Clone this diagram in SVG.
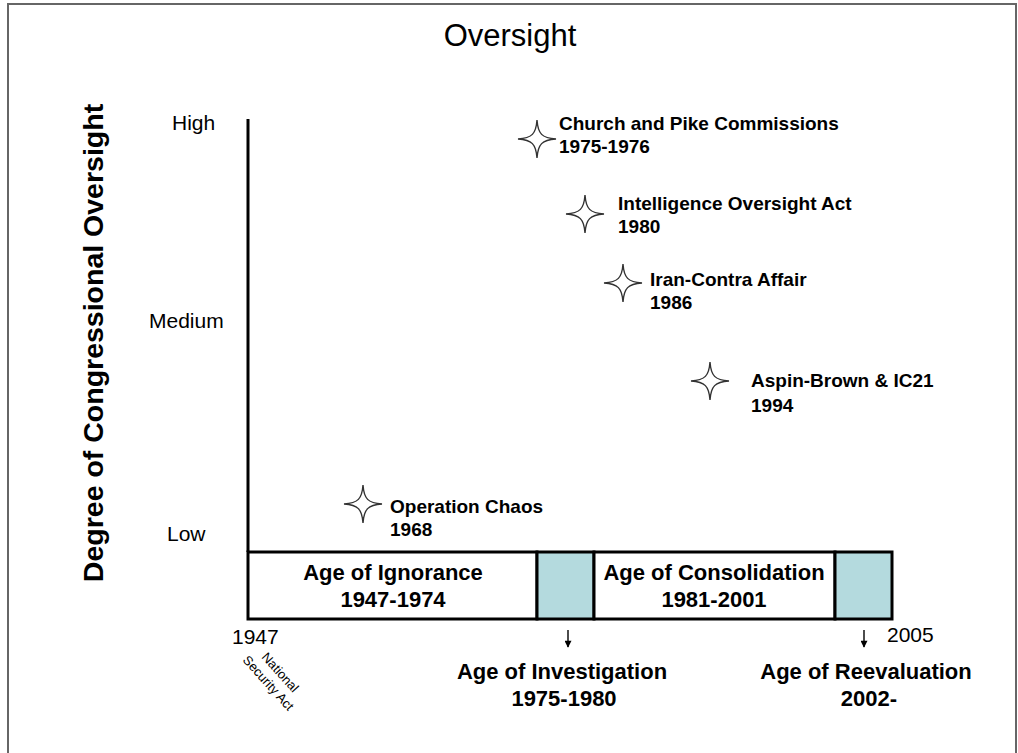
<svg xmlns="http://www.w3.org/2000/svg" width="1018" height="753" viewBox="0 0 1018 753">
<defs>
<style>
.lbl{font-family:"Liberation Sans",Arial,sans-serif;font-weight:bold;font-size:19px;fill:#000}
.lvl{font-family:"Liberation Sans",Arial,sans-serif;font-size:21px;fill:#000}
.age{font-family:"Liberation Sans",Arial,sans-serif;font-weight:bold;font-size:22px;fill:#000;text-anchor:middle}
.yr{font-family:"Liberation Sans",Arial,sans-serif;font-size:21px;fill:#000}
.nsa{font-family:"Liberation Sans",Arial,sans-serif;font-size:13px;fill:#000;text-anchor:middle}
.star{fill:#fff;stroke:#333;stroke-width:1.4}
.cell{stroke:#000;stroke-width:3}
.arr{stroke:#000;stroke-width:1.4}
</style>
<path id="star" d="M0,-19 C1,-5 5,-1 19,0 C5,1 1,5 0,19 C-1,5 -5,1 -19,0 C-5,-1 -1,-5 0,-19 Z"/>
<marker id="ah" viewBox="0 0 10 10" refX="9" refY="5" markerWidth="8" markerHeight="7" orient="auto" markerUnits="userSpaceOnUse"><path d="M0,0 L10,5 L0,10 Z" fill="#000"/></marker>
</defs>
<rect x="0" y="0" width="1018" height="753" fill="#fff"/>
<path d="M8,753 V4 H1016 V753" fill="none" stroke="#666" stroke-width="2"/>
<text x="510" y="46" font-family="'Liberation Sans',Arial,sans-serif" font-size="31" text-anchor="middle">Oversight</text>
<text transform="translate(103,343) rotate(-90)" font-family="'Liberation Sans',Arial,sans-serif" font-size="28.5" font-weight="bold" text-anchor="middle">Degree of Congressional Oversight</text>
<text class="lvl" x="172" y="130">High</text>
<text class="lvl" x="149" y="328">Medium</text>
<text class="lvl" x="167" y="541">Low</text>
<g id="connectors">
<line x1="248" y1="119" x2="248" y2="552" stroke="#000" stroke-width="3"/>
<line class="arr" x1="568" y1="630" x2="568" y2="647" marker-end="url(#ah)"/>
<line class="arr" x1="864" y1="630" x2="864" y2="647" marker-end="url(#ah)"/>
</g>
<g id="timeline">
<rect class="cell" x="248" y="552" width="289" height="67" fill="#fff"/>
<rect class="cell" x="537" y="552" width="57" height="67" fill="#b4dade"/>
<rect class="cell" x="594" y="552" width="241" height="67" fill="#fff"/>
<rect class="cell" x="835" y="552" width="57" height="67" fill="#b4dade"/>
<text class="age" x="393" y="580">Age of Ignorance</text>
<text class="age" x="393" y="607">1947-1974</text>
<text class="age" x="714" y="580">Age of Consolidation</text>
<text class="age" x="714" y="607">1981-2001</text>
</g>
<text class="yr" x="232" y="644">1947</text>
<text class="yr" x="887" y="642">2005</text>
<g transform="translate(274,678) rotate(48)">
<text class="nsa" x="0" y="-4">National</text>
<text class="nsa" x="0" y="12">Security Act</text>
</g>
<g id="investigation">
<text class="age" x="562" y="679">Age of Investigation</text>
<text class="age" x="564" y="706">1975-1980</text>
</g>
<g id="reevaluation">
<text class="age" x="866" y="679">Age of Reevaluation</text>
<text class="age" x="869" y="706">2002-</text>
</g>
<g id="church">
<use href="#star" class="star" x="537" y="139"/>
<text class="lbl" x="559" y="130">Church and Pike Commissions</text>
<text class="lbl" x="559" y="153">1975-1976</text>
</g>
<g id="intel">
<use href="#star" class="star" x="585" y="214"/>
<text class="lbl" x="618" y="210">Intelligence Oversight Act</text>
<text class="lbl" x="618" y="233">1980</text>
</g>
<g id="iran">
<use href="#star" class="star" x="623" y="283"/>
<text class="lbl" x="650" y="286">Iran-Contra Affair</text>
<text class="lbl" x="650" y="309">1986</text>
</g>
<g id="aspin">
<use href="#star" class="star" x="710" y="381"/>
<text class="lbl" x="751" y="387">Aspin-Brown &amp; IC21</text>
<text class="lbl" x="751" y="412">1994</text>
</g>
<g id="chaos">
<use href="#star" class="star" x="363" y="504"/>
<text class="lbl" x="390" y="513">Operation Chaos</text>
<text class="lbl" x="390" y="536">1968</text>
</g>
</svg>
